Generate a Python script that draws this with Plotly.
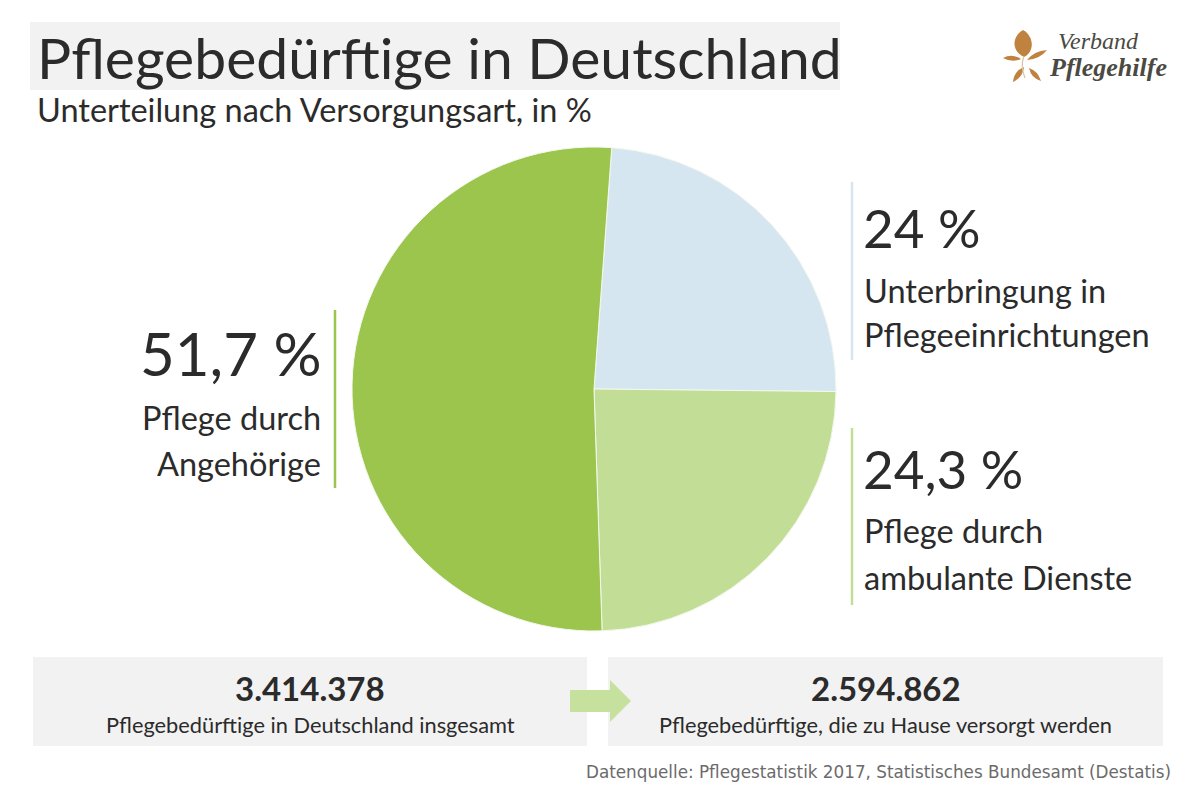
import plotly.graph_objects as go

# ---- data ----
categories = ["Unterbringung in Pflegeeinrichtungen", "Pflege durch ambulante Dienste", "Pflege durch Angehörige"]
shares = [24.0, 24.3, 51.7]
share_labels = ["24 %", "24,3 %", "51,7 %"]
totals = ["3.414.378", "2.594.862"]
total_labels = ["Pflegebedürftige in Deutschland insgesamt", "Pflegebedürftige, die zu Hause versorgt werden"]
colors = ["#d5e6f0", "#c2de96", "#9bc54d"]

W, H = 1200, 800
def X(p): return p / W
def Y(p): return 1 - p / H

FONT = "Lato"
TXT = "#2b2b2b"

fig = go.Figure()
fig.add_trace(go.Pie(
    values=shares, labels=categories, sort=False, direction="clockwise",
    rotation=4.2, marker=dict(colors=colors, line=dict(color="#f4f8ee", width=1)),
    textinfo="none", hoverinfo="label+percent", showlegend=False,
    domain=dict(x=[X(352), X(836)], y=[Y(633), Y(145)]),
))

shapes = []
ann = []

# title box
shapes.append(dict(type="rect", xref="paper", yref="paper", x0=X(30), x1=X(840), y0=Y(90), y1=Y(22),
                   fillcolor="#f2f2f2", line=dict(width=0), layer="below"))
ann.append(dict(text="Pflegebedürftige in Deutschland", x=X(35), y=Y(57), xanchor="left", yanchor="middle",
                font=dict(family=FONT, size=57, color=TXT)))
ann.append(dict(text="Unterteilung nach Versorgungsart, in %", x=X(35), y=Y(110), xanchor="left", yanchor="middle",
                font=dict(family=FONT, size=32.5, color=TXT)))

LBL = 32.5
# left label
shapes.append(dict(type="line", xref="paper", yref="paper", x0=X(335), x1=X(335), y0=Y(310), y1=Y(488),
                   line=dict(color=colors[2], width=2.5)))
ann.append(dict(text=share_labels[2], x=X(323), y=Y(353), xanchor="right", yanchor="middle",
                font=dict(family=FONT, size=60, color=TXT)))
ann.append(dict(text="Pflege durch", x=X(323), y=Y(417), xanchor="right", yanchor="middle",
                font=dict(family=FONT, size=LBL, color=TXT)))
ann.append(dict(text="Angehörige", x=X(323), y=Y(464), xanchor="right", yanchor="middle",
                font=dict(family=FONT, size=LBL, color=TXT)))

# right top label
shapes.append(dict(type="line", xref="paper", yref="paper", x0=X(852), x1=X(852), y0=Y(182), y1=Y(360),
                   line=dict(color=colors[0], width=2.5)))
ann.append(dict(text=share_labels[0], x=X(861), y=Y(228), xanchor="left", yanchor="middle",
                font=dict(family=FONT, size=53, color=TXT)))
ann.append(dict(text="Unterbringung in", x=X(862), y=Y(290), xanchor="left", yanchor="middle",
                font=dict(family=FONT, size=LBL, color=TXT)))
ann.append(dict(text="Pflegeeinrichtungen", x=X(862), y=Y(334), xanchor="left", yanchor="middle",
                font=dict(family=FONT, size=LBL, color=TXT)))

# right bottom label
shapes.append(dict(type="line", xref="paper", yref="paper", x0=X(852), x1=X(852), y0=Y(428), y1=Y(605),
                   line=dict(color=colors[1], width=2.5)))
ann.append(dict(text=share_labels[1], x=X(861), y=Y(468), xanchor="left", yanchor="middle",
                font=dict(family=FONT, size=53, color=TXT)))
ann.append(dict(text="Pflege durch", x=X(862), y=Y(530), xanchor="left", yanchor="middle",
                font=dict(family=FONT, size=LBL, color=TXT)))
ann.append(dict(text="ambulante Dienste", x=X(862), y=Y(577), xanchor="left", yanchor="middle",
                font=dict(family=FONT, size=LBL, color=TXT)))

# bottom boxes
for (x0, x1), num, lab in zip([(33, 587), (608, 1163)], totals, total_labels):
    shapes.append(dict(type="rect", xref="paper", yref="paper", x0=X(x0), x1=X(x1), y0=Y(746), y1=Y(657),
                       fillcolor="#f2f2f2", line=dict(width=0), layer="below"))
    cx = (x0 + x1) / 2
    ann.append(dict(text="<b>" + num + "</b>", x=X(cx), y=Y(688), xanchor="center", yanchor="middle",
                    font=dict(family=FONT, size=33, color=TXT)))
    ann.append(dict(text=lab, x=X(cx), y=Y(724), xanchor="center", yanchor="middle",
                    font=dict(family=FONT, size=21.8, color=TXT)))

# arrow
pts = [(570, 690), (610, 690), (610, 680), (631, 701), (610, 722), (610, 712), (570, 712)]
path = "M " + " L ".join(f"{X(a):.5f},{Y(b):.5f}" for a, b in pts) + " Z"
shapes.append(dict(type="path", xref="paper", yref="paper", path=path, fillcolor="#c5e19d", line=dict(width=0)))

# source
ann.append(dict(text="Datenquelle: Pflegestatistik 2017, Statistisches Bundesamt (Destatis)", x=X(1173), y=Y(772),
                xanchor="right", yanchor="middle", font=dict(family="DejaVu Sans", size=16.8, color="#6b6b6b")))

# logo
LEAF = "#c0823f"
def bez(cmds):
    out = []
    for c in cmds:
        if isinstance(c, str):
            out.append(c)
        else:
            out.append(f"{X(c[0]):.5f},{Y(c[1]):.5f}")
    return " ".join(out)
leaf_top = bez(["M", (1023, 30), "C", (1034, 36), (1035, 52), (1024, 57), "C", (1012, 52), (1011, 37), (1023, 30), "Z"])
leaf_l = bez(["M", (1003, 58), "Q", (1012, 53), (1021, 59), "Q", (1012, 63), (1003, 58), "Z"])
leaf_r = bez(["M", (1047, 50), "Q", (1040, 59), (1027, 60), "Q", (1034, 51), (1047, 50), "Z"])
leaf_bl = bez(["M", (1013, 82), "Q", (1014, 71), (1024, 67), "Q", (1023, 77), (1013, 82), "Z"])
leaf_br = bez(["M", (1041, 81), "Q", (1031, 78), (1029, 68), "Q", (1038, 71), (1041, 81), "Z"])
for p in [leaf_top, leaf_l, leaf_r, leaf_bl, leaf_br]:
    shapes.append(dict(type="path", xref="paper", yref="paper", path=p, fillcolor=LEAF, line=dict(width=0)))
stem = bez(["M", (1024, 56), "Q", (1020, 66), (1025, 78)])
shapes.append(dict(type="path", xref="paper", yref="paper", path=stem, line=dict(color="#d9c2a0", width=1.2)))
ann.append(dict(text="<i>Verband</i>", x=X(1056), y=Y(41), xanchor="left", yanchor="middle",
                font=dict(family="Liberation Serif", size=24, color="#4a4a42")))
ann.append(dict(text="<b><i>Pflegehilfe</i></b>", x=X(1047), y=Y(68), xanchor="left", yanchor="middle",
                font=dict(family="Liberation Serif", size=26, color="#4a4a42")))

for a in ann:
    a.update(xref="paper", yref="paper", showarrow=False)

fig.update_layout(
    width=W, height=H, margin=dict(l=0, r=0, t=0, b=0),
    paper_bgcolor="white", plot_bgcolor="white",
    shapes=shapes, annotations=ann, showlegend=False,
)
fig.write_html("out.html", config={"displayModeBar": False},
               post_script="document.body.style.margin='0';document.body.style.overflow='hidden';")
